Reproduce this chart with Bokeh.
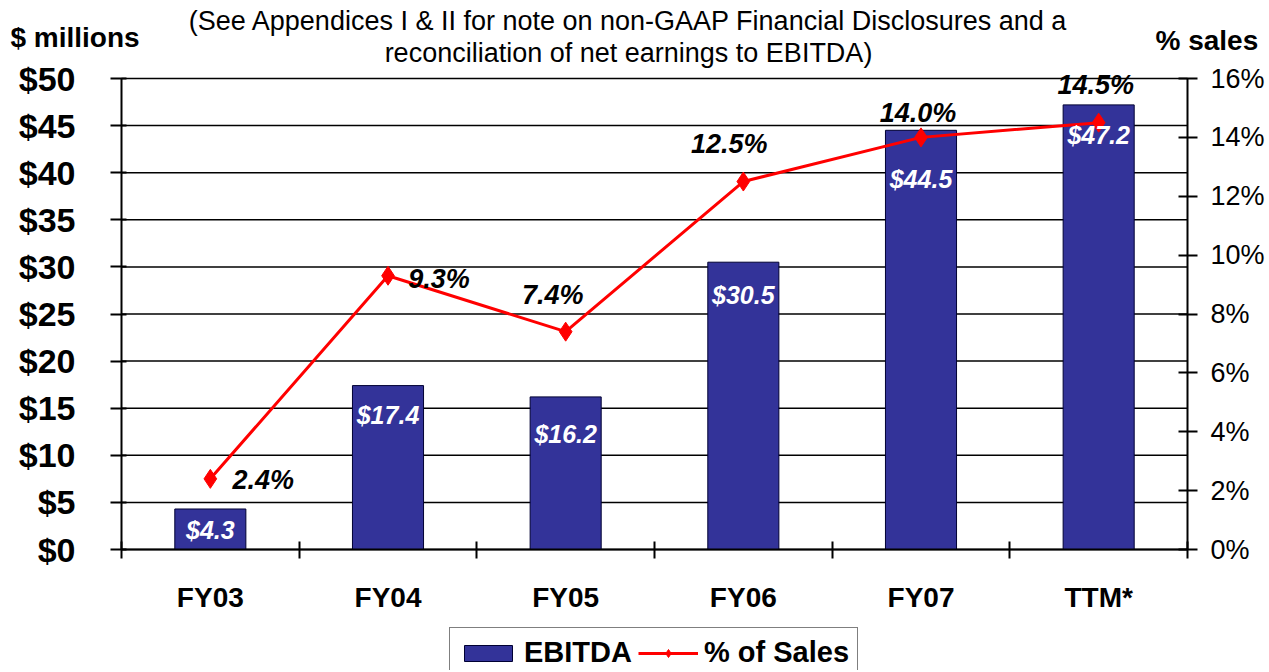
from bokeh.plotting import figure
from bokeh.models import (Range1d, LinearAxis, FixedTicker, ColumnDataSource,
                          Label, Legend, LegendItem)
from bokeh.embed import file_html
from bokeh.resources import INLINE
from bokeh.core.properties import value

# ---------------- data ----------------
categories = ["FY03", "FY04", "FY05", "FY06", "FY07", "TTM*"]
ebitda = [4.3, 17.4, 16.2, 30.5, 44.5, 47.2]            # $ millions
pct_sales = [2.4, 9.3, 7.4, 12.5, 14.0, 14.5]           # % of sales
left_ticks = [0, 5, 10, 15, 20, 25, 30, 35, 40, 45, 50]
left_tick_labels = ["$0", "$5", "$10", "$15", "$20", "$25", "$30", "$35", "$40", "$45", "$50"]
right_ticks = [0, 2, 4, 6, 8, 10, 12, 14, 16]
right_tick_labels = ["0%", "2%", "4%", "6%", "8%", "10%", "12%", "14%", "16%"]
title_lines = ["(See Appendices I & II for note on non-GAAP Financial Disclosures and a",
               "reconciliation of net earnings to EBITDA)"]

# ---------------- layout (pixels) ----------------
W, H = 1266, 670
PX0, PX1 = 121, 1187          # plot box left / right
PY0, PY1 = 78, 549            # plot box top / bottom
bar_label_dy = [21, 29, 37, 33, 49, 30]
pct_label_dx = [53, 51, -13, -14, -3, -3]
pct_label_dy = [1, 3, -37, -38, -24, -38]

FONT = "Liberation Sans"
n = len(categories)
ymax, pmax = left_ticks[-1], right_ticks[-1]
ux = (PX1 - PX0) / n
uy = (PY1 - PY0) / ymax
up = (PY1 - PY0) / pmax

def dx(px):   # page x -> data x
    return (px - PX0) / ux

def dy(py):   # page y -> data y (left scale)
    return (PY1 - py) / uy

xs = [i + 0.5 for i in range(n)]

src = ColumnDataSource(dict(
    x=xs, ebitda=ebitda, pct=pct_sales,
    ebitda_lbl=["$%.1f" % v for v in ebitda],
    pct_lbl=["%.1f%%" % v for v in pct_sales],
    bdy=bar_label_dy, pdx=pct_label_dx, pdy=pct_label_dy,
))

p = figure(width=W, height=H,
           x_range=Range1d(-PX0 / ux, n + (W - PX1) / ux),
           y_range=Range1d(-(H - PY1) / uy, ymax + PY0 / uy),
           x_axis_type=None, y_axis_type=None,
           output_backend="svg", toolbar_location=None,
           min_border=0, min_border_left=0, min_border_right=0,
           min_border_top=0, min_border_bottom=0,
           background_fill_color="white", border_fill_color="white")
p.extra_y_ranges = {"pct": Range1d(-(H - PY1) / up, pmax + PY0 / up)}
p.outline_line_color = None
p.xgrid.visible = False
p.ygrid.visible = False

# horizontal gridlines across the plot box (incl. top edge at $50)
p.segment(x0=[0] * len(left_ticks), x1=[n] * len(left_ticks),
          y0=left_ticks, y1=left_ticks, line_color="black", line_width=1.5,
          level="underlay")

# x axis: labels at category centres, ticks at boundaries
xa = LinearAxis(fixed_location=0, bounds=(0, n),
                ticker=FixedTicker(ticks=xs, minor_ticks=list(range(n + 1))))
xa.major_label_overrides = {x: c for x, c in zip(xs, categories)}
xa.major_tick_in = 0
xa.major_tick_out = 0
xa.minor_tick_in = 8
xa.minor_tick_out = 9
xa.minor_tick_line_color = "black"
xa.minor_tick_line_width = 2
xa.axis_line_color = "black"
xa.axis_line_width = 2
xa.major_label_standoff = 23
xa.major_label_text_font = FONT
xa.major_label_text_font_size = "28px"
xa.major_label_text_font_style = "bold"
xa.major_label_text_color = "black"
p.add_layout(xa, "below")

# left axis
ya = LinearAxis(fixed_location=0, bounds=(0, ymax), ticker=FixedTicker(ticks=left_ticks))
ya.major_label_overrides = {t: l for t, l in zip(left_ticks, left_tick_labels)}
ya.major_tick_in = 5
ya.major_tick_out = 11
ya.major_tick_line_width = 2
ya.major_tick_line_color = "black"
ya.minor_tick_line_color = None
ya.axis_line_width = 2
ya.axis_line_color = "black"
ya.major_label_standoff = 35
ya.major_label_text_font = FONT
ya.major_label_text_font_size = "34px"
ya.major_label_text_font_style = "bold"
ya.major_label_text_color = "black"
p.add_layout(ya, "left")

# right axis
ra = LinearAxis(y_range_name="pct", fixed_location=n, bounds=(0, pmax),
                ticker=FixedTicker(ticks=right_ticks))
ra.major_label_overrides = {t: l for t, l in zip(right_ticks, right_tick_labels)}
ra.major_tick_in = 9
ra.major_tick_out = 10
ra.major_tick_line_width = 2
ra.major_tick_line_color = "black"
ra.minor_tick_line_color = None
ra.axis_line_width = 2
ra.axis_line_color = "black"
ra.major_label_standoff = 13
ra.major_label_text_font = FONT
ra.major_label_text_font_size = "27px"
ra.major_label_text_color = "black"
p.add_layout(ra, "right")

# bars
bars = p.vbar(x="x", top="ebitda", bottom=0, width=0.4, source=src,
              fill_color="#333399", line_color="#000033", line_width=1)
# line
line_r = p.line(x="x", y="pct", source=src, y_range_name="pct",
                line_color="#ff0000", line_width=3)
pts = p.scatter(x="x", y="pct", source=src, y_range_name="pct", marker="diamond",
                size=19, fill_color="#ff0000", line_color="#ff0000")

# value labels
p.text(x="x", y="ebitda", text="ebitda_lbl", source=src, y_offset="bdy",
       text_align="center", text_baseline="middle", text_color="white",
       text_font=value(FONT), text_font_size="25px", text_font_style="bold italic")
p.text(x="x", y="pct", text="pct_lbl", source=src, y_range_name="pct",
       x_offset="pdx", y_offset="pdy",
       text_align="center", text_baseline="middle", text_color="black",
       text_font=value(FONT), text_font_size="27px", text_font_style="bold italic")

# titles / axis captions
p.add_layout(Label(x=dx(628), y=dy(20), text=title_lines[0], text_align="center",
                   text_baseline="middle", text_font=FONT, text_font_size="27px",
                   text_color="black"))
p.add_layout(Label(x=dx(628), y=dy(52), text=title_lines[1], text_align="center",
                   text_baseline="middle", text_font=FONT, text_font_size="27px",
                   text_color="black"))
p.add_layout(Label(x=dx(10), y=dy(37), text="$ millions", text_align="left",
                   text_baseline="middle", text_font=FONT, text_font_size="28px",
                   text_font_style="bold", text_color="black"))
p.add_layout(Label(x=dx(1155), y=dy(40), text="% sales", text_align="left",
                   text_baseline="middle", text_font=FONT, text_font_size="28px",
                   text_font_style="bold", text_color="black"))

legend = Legend(items=[LegendItem(label="EBITDA", renderers=[bars]),
                       LegendItem(label="% of Sales", renderers=[line_r, pts])],
                location=(449, H - 628 - 50), orientation="horizontal",
                glyph_width=60, glyph_height=20, label_standoff=6, spacing=6,
                padding=8, margin=0, border_line_color="black",
                border_line_width=1.5, background_fill_color="white",
                background_fill_alpha=1.0,
                label_text_font=FONT, label_text_font_size="29px",
                label_text_font_style="bold", label_text_color="black")
p.add_layout(legend)

open("out.html", "w").write(file_html(p, INLINE))
